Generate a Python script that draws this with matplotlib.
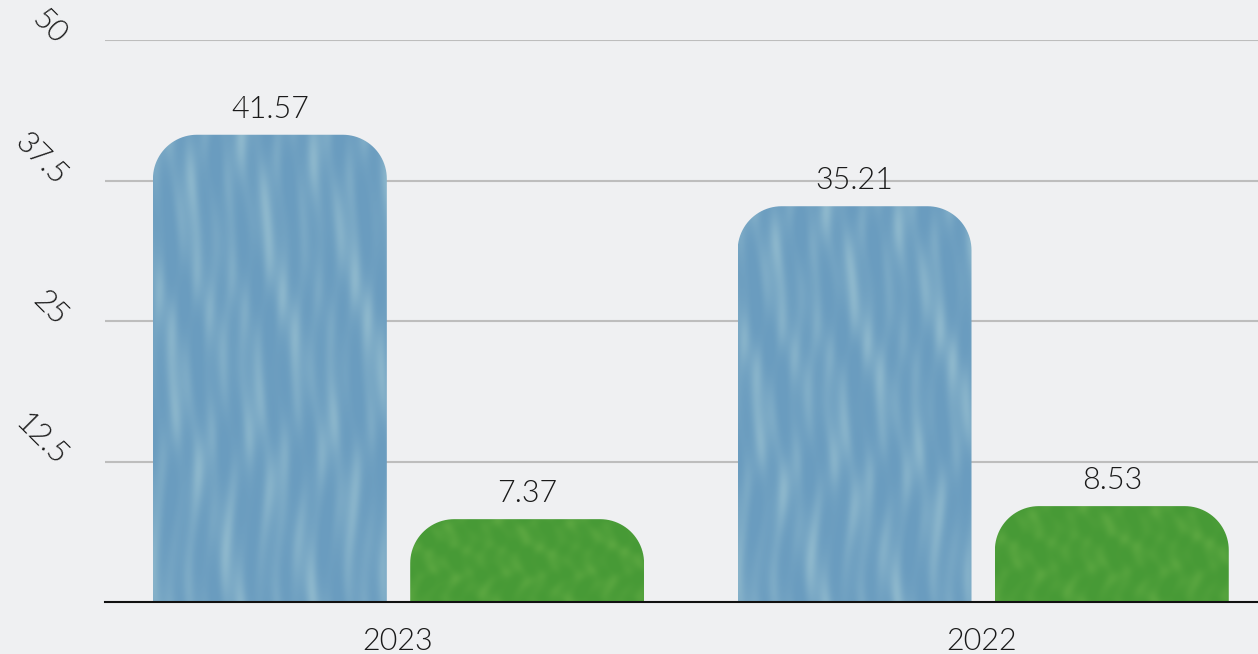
import numpy as np
import matplotlib
matplotlib.use("Agg")
import matplotlib.pyplot as plt
from matplotlib.patches import PathPatch
from matplotlib.path import Path

# data
years = ["2023", "2022"]
series_a = [41.57, 35.21]   # blue bars
series_b = [7.37, 8.53]     # green bars
y_ticks = [12.5, 25, 37.5, 50]
y_tick_labels = ["12.5", "25", "37.5", "50"]

plt.rcParams["font.family"] = ["Lato", "DejaVu Sans"]
plt.rcParams["font.weight"] = 300

bg = "#eff0f2"
fig = plt.figure(figsize=(12.58, 6.54), dpi=100, facecolor=bg)
ax = fig.add_axes([105 / 1258, 52 / 654, 1153 / 1258, 562 / 654])
ax.set_facecolor(bg)
ax.set_xlim(-0.5, 1.472)
ax.set_ylim(0, 50)

# scale of data units in pixels, used for the rounded corners
px_x = 1153 / (1.472 + 0.5)
px_y = 562 / 50


def rounded_bar(x0, w, h, r_px=44):
    rx = r_px / px_x
    ry = min(r_px / px_y, h)
    t = np.linspace(0, np.pi / 2, 24)
    pts = [(x0, 0)]
    # left top corner
    for a in t:
        pts.append((x0 + rx - rx * np.cos(a), h - ry + ry * np.sin(a)))
    # right top corner
    for a in t:
        pts.append((x0 + w - rx + rx * np.sin(a), h - ry + ry * np.cos(a)))
    pts.append((x0 + w, 0))
    pts.append((x0, 0))
    return Path(pts, closed=True)


def texture(base, light, streak_scale, n=300):
    yy, xx = np.mgrid[0:1:n * 1j, 0:1:n * 1j]
    s = (np.sin(xx * 37 + np.sin(yy * 9) * 2.5) * 0.5
         + np.sin(xx * 83 + np.cos(yy * 13) * 1.7) * 0.3
         + np.sin((xx - yy * 0.6) * 21) * 0.4)
    s = (s - s.min()) / (s.max() - s.min())
    s = s ** 2 * streak_scale
    base = np.array(matplotlib.colors.to_rgb(base))
    light = np.array(matplotlib.colors.to_rgb(light))
    img = base[None, None, :] * (1 - s[..., None]) + light[None, None, :] * s[..., None]
    return img


tex_a = texture("#6a9cbf", "#9cc3d2", 0.7)
tex_b = texture("#479a36", "#6cb24a", 0.5)

w = 0.40
offsets = [-0.218, 0.222]
x = np.arange(len(years))

for i, yr in enumerate(years):
    for vals, tex, off in [(series_a, tex_a, offsets[0]), (series_b, tex_b, offsets[1])]:
        h = vals[i]
        x0 = x[i] + off - w / 2
        patch = PathPatch(rounded_bar(x0, w, h), facecolor="none", edgecolor="none")
        ax.add_patch(patch)
        im = ax.imshow(tex, extent=[x0, x0 + w, 0, h], aspect="auto", zorder=2)
        im.set_clip_path(patch)
        ax.annotate(f"{h:.2f}", (x[i] + off, h), xytext=(0, 8), textcoords="offset points",
                    ha="center", va="bottom", fontsize=22, color="#1a1a1a")

ax.set_xlim(-0.5, 1.472)
ax.set_ylim(0, 50)

ax.set_yticks(y_ticks)
ax.set_yticklabels(y_tick_labels)
ax.yaxis.grid(True, color="#bdbdbd", linewidth=1.5)
ax.set_axisbelow(True)
ax.tick_params(axis="y", length=0, pad=31, labelsize=22, labelcolor="#1a1a1a")
for lab in ax.get_yticklabels():
    lab.set_rotation(-45)
    lab.set_rotation_mode("anchor")
    lab.set_ha("right")
    lab.set_va("center")

ax.set_xticks(x)
ax.set_xticklabels(years)
ax.tick_params(axis="x", length=0, pad=18, labelsize=22, labelcolor="#1a1a1a")

for side in ["left", "right", "top"]:
    ax.spines[side].set_visible(False)
ax.spines["bottom"].set_color("#111111")
ax.spines["bottom"].set_linewidth(1.5)

fig.savefig("out.png", dpi=100, facecolor=bg)
